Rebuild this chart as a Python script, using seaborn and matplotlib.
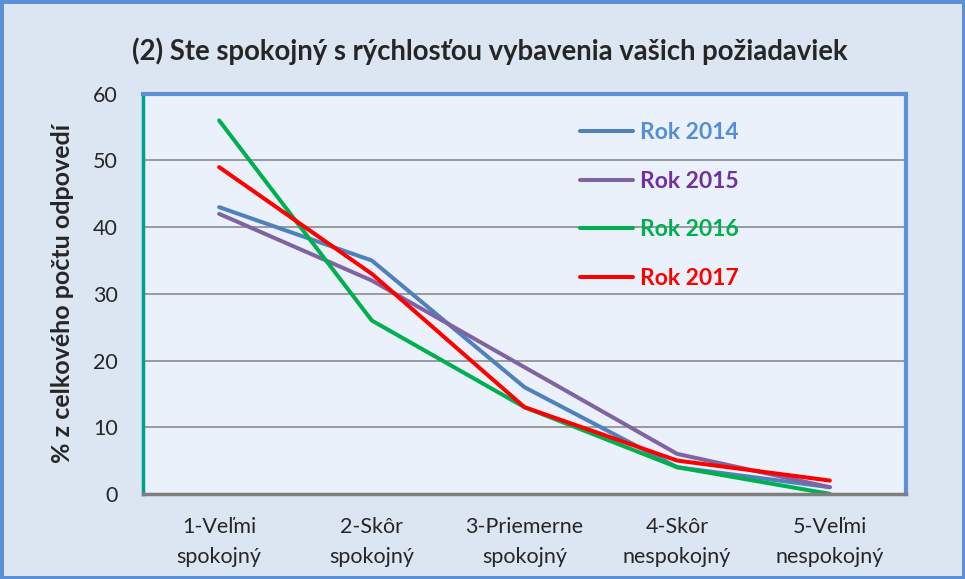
import pandas as pd
import seaborn as sns
import matplotlib.pyplot as plt

# --- data ---
categories = ["1-Veľmi\nspokojný", "2-Skôr\nspokojný", "3-Priemerne\nspokojný",
              "4-Skôr\nnespokojný", "5-Veľmi\nnespokojný"]
rok_2014 = [43, 35, 16, 4, 1]
rok_2015 = [42, 32, 19, 6, 1]
rok_2016 = [56, 26, 13, 4, 0]
rok_2017 = [49, 33, 13, 5, 2]
series_names = ["Rok 2014", "Rok 2015", "Rok 2016", "Rok 2017"]

line_colors = ["#4f81bd", "#8064a2", "#00b050", "#ff0000"]
text_colors = ["#558ed5", "#7030a0", "#00b050", "#ff0000"]

df = pd.DataFrame({
    "kategoria": categories * 4,
    "hodnota": rok_2014 + rok_2015 + rok_2016 + rok_2017,
    "rok": [s for s in series_names for _ in categories],
})

sns.set_style("white")
plt.rcParams["font.family"] = ["Lato", "DejaVu Sans"]

fig = plt.figure(figsize=(9.65, 5.79), dpi=100, facecolor="#dce6f2",
                 edgecolor="#5b8fd6", linewidth=5)
ax = fig.add_axes([0.148, 0.147, 0.791, 0.691])
ax.set_facecolor("#eaf1fa")

sns.lineplot(data=df, x="kategoria", y="hodnota", hue="rok",
             palette=line_colors, linewidth=2.9, sort=False, ax=ax)

ax.set_xlim(-0.5, 4.5)
ax.set_ylim(0, 60)
ax.set_yticks(range(0, 61, 10))
ax.yaxis.grid(True, color="#8c8c8c", linewidth=1.2)
ax.set_axisbelow(True)
ax.tick_params(axis="both", labelsize=15.5, length=0)
ax.tick_params(axis="x", pad=17)
ax.tick_params(axis="y", pad=18)
for lbl in ax.get_xticklabels():
    lbl.set_linespacing(1.6)
ax.set_xlabel("")
ax.set_ylabel("% z celkového počtu odpovedí", fontsize=18, fontweight="bold",
              labelpad=14)

for side in ["top", "right"]:
    ax.spines[side].set_color("#5b8fd6")
    ax.spines[side].set_linewidth(3)
ax.spines["left"].set_color("#00a08a")
ax.spines["left"].set_linewidth(2.5)
ax.spines["bottom"].set_color("#7f7f7f")
ax.spines["bottom"].set_linewidth(2.5)

ax.set_title("(2) Ste spokojný s rýchlosťou vybavenia vašich požiadaviek",
             fontsize=19.8, fontweight="bold", pad=24, x=0.455)

leg = ax.legend(loc="upper left", bbox_to_anchor=(0.546, 0.98), frameon=False,
                fontsize=16.5, handlelength=2.3, labelspacing=1.2, handletextpad=0.3)
for txt, c in zip(leg.get_texts(), text_colors):
    txt.set_color(c)
    txt.set_fontweight("bold")

fig.savefig("out.png", dpi=100, facecolor=fig.get_facecolor(),
            edgecolor=fig.get_edgecolor())
